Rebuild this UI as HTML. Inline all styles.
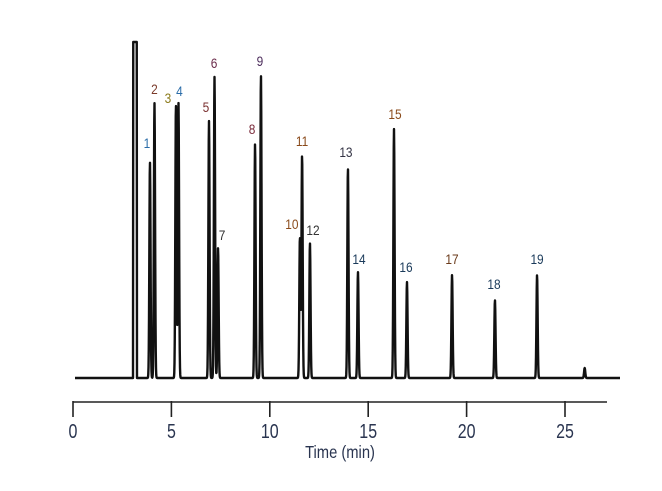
<!DOCTYPE html>
<html><head><meta charset="utf-8"><style>
body{margin:0;background:#fff;}
svg{display:block;font-family:"Liberation Sans Narrow","Liberation Sans",sans-serif;}
</style></head><body>
<svg id="chart" width="662" height="491" viewBox="0 0 662 491">
<g id="axis"></g>
<path id="trace" fill="none" stroke="#111" stroke-width="2.4" stroke-linejoin="round"></path>
<g id="labels"></g>
<text transform="translate(340,458) scale(0.82,1)" text-anchor="middle" font-size="18" fill="#2a3550">Time (min)</text>
</svg>
<script>
const peakTimes=[3.91,4.14,5.23,5.36,6.91,7.19,7.37,9.25,9.55,11.53,11.64,12.04,13.97,14.48,16.31,16.97,19.26,21.44,23.58,26.0];
const peakHeights=[216,275,274,275,257,301,130,234,303,141,223,135,210,106,249,96,103,78,103,10];
const peakNames=["1","2","3","4","5","6","7","8","9","10","11","12","13","14","15","16","17","18","19",""];
const solventStart=[3.05];const solventEnd=[3.25];const solventHeight=[336];
const tickLabels=["0","5","10","15","20","25"];
const tickValues=[0,5,10,15,20,25];
const labelColors=["#2a6ca8","#7a3a2a","#8b7a1a","#2a6ca8","#7a3030","#6a2a4a","#333","#7a2a3a","#4a2a5a","#8a4a1a","#8a4a1a","#333","#334","#1a3a5a","#8a4a1a","#1a3a5a","#6a3a1a","#1a3a5a","#1a3a5a",""];
const labelDx=[-3,0,-8,1,-3,-0.5,4,-3,-1,-8,0,3,-2,1,1,-1,0,-1,0,0];
const labelDy=[-14,-9,-1,-7,-9,-9,-8,-10,-9,-8,-9,-8,-11,-8,-10,-10,-11,-11,-11,0];
const x=t=>73+t*19.68;
const y=v=>378-v;
const NS="http://www.w3.org/2000/svg";
const ax=document.getElementById('axis');
function mk(tag,attrs,parent){const e=document.createElementNS(NS,tag);for(const k in attrs)e.setAttribute(k,attrs[k]);parent.appendChild(e);return e;}
const al=mk('line',{x1:73,y1:402,x2:607,y2:402,stroke:'#222','stroke-width':1.6},ax);


tickValues.forEach((v,i)=>{
 const tl=mk('line',{x1:x(v),y1:401,x2:x(v),y2:417,stroke:'#222','stroke-width':1.6},ax);
 
 
 const tt=mk('text',{transform:'translate('+x(v)+',438) scale(0.8,1)','text-anchor':'middle','font-size':20,fill:'#2a3550'},ax);
 
 
 tt.textContent=tickLabels[i];
});
let d='';
const s=0.03;
for(let px=75;px<=620;px+=0.25){
 const t=(px-73)/19.68;
 let v=0;
 for(let i=0;i<peakTimes.length;i++){const z=(t-peakTimes[i])/s;v+=peakHeights[i]*Math.exp(-0.5*z*z);}
 for(let i=0;i<solventStart.length;i++){
  if(t>=solventStart[i]&&t<=solventEnd[i])v+=solventHeight[i];
 }
 d+=(d?'L':'M')+px.toFixed(2)+','+y(v).toFixed(2);
}
document.getElementById('trace').setAttribute('d',d);
const lg=document.getElementById('labels');
peakTimes.forEach((pt,i)=>{
 if(!peakNames[i])return;
 const lx=x(pt)+labelDx[i], ly=y(peakHeights[i])+labelDy[i];
 const lt=mk('text',{transform:'translate('+lx+','+ly+') scale(0.85,1)','text-anchor':'middle','font-size':14,fill:labelColors[i]},lg);
 
 
 lt.textContent=peakNames[i];
});
</script>
</body></html>
